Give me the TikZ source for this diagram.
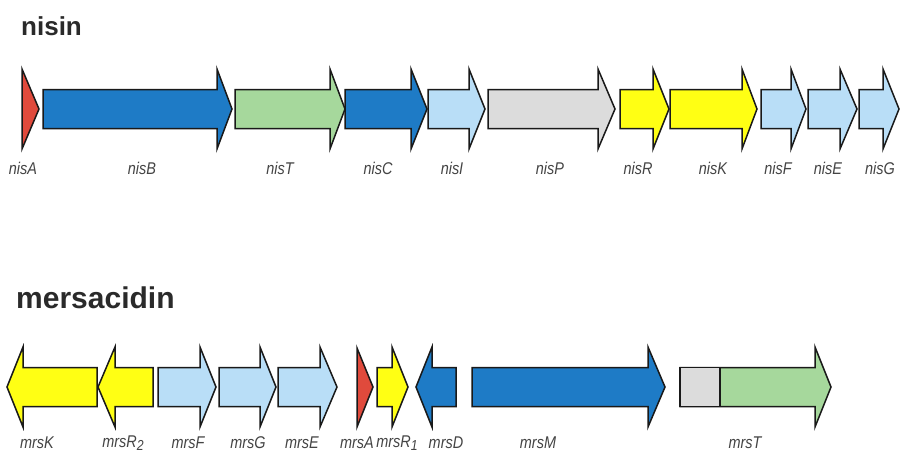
\documentclass[tikz,border=0pt]{standalone}
\usepackage{fontspec}
\setmainfont{Liberation Sans}
\newfontfamily\labfont[FakeStretch=0.85]{Liberation Sans}
\definecolor{gred}{HTML}{E04A3C}
\definecolor{gblue}{HTML}{1E7BC6}
\definecolor{ggreen}{HTML}{A6D89C}
\definecolor{glblue}{HTML}{B9DEF7}
\definecolor{ggray}{HTML}{DCDCDC}
\definecolor{gyellow}{HTML}{FFFF14}
\definecolor{labgray}{HTML}{444444}
\definecolor{titlegray}{HTML}{2A2A2A}
\tikzset{
  gene/.style={draw=black!90, line width=1.5pt, line join=miter},
  genelab/.style={font=\labfont\itshape\fontsize{17}{18}\selectfont, text=labgray, inner sep=0pt, anchor=center},
  title/.style={font=\bfseries, text=titlegray, inner sep=0pt, anchor=base west}
}
% right-pointing gene: start, head base, tip, centre y, colour
\newcommand\rgene[5]{\draw[gene, fill=#5] (#1,#4-19.5) -- (#2,#4-19.5) -- (#2,#4-40) -- (#3,#4) -- (#2,#4+40) -- (#2,#4+19.5) -- (#1,#4+19.5) -- cycle;}
% left-pointing gene: tip, head base, end, centre y, colour
\newcommand\lgene[5]{\draw[gene, fill=#5] (#3,#4-19.5) -- (#2,#4-19.5) -- (#2,#4-40) -- (#1,#4) -- (#2,#4+40) -- (#2,#4+19.5) -- (#3,#4+19.5) -- cycle;}
\newcommand\sub[1]{\raisebox{-0.3ex}{\scalebox{0.85}{#1}}}
\begin{document}
\begin{tikzpicture}[x=1pt,y=-1pt]
\useasboundingbox (0,0) rectangle (900,455);
\fill[white] (0,0) rectangle (900,455);
% titles
\node[title, font=\bfseries\fontsize{26}{28}\selectfont] (tnisin) at (21,35) {nisin};
\node[title, font=\bfseries\fontsize{30}{32}\selectfont] (tmers) at (16,308) {mersacidin};
% row 1: nisin
\draw[gene, fill=gred] (22,69) -- (39,109) -- (22,149) -- cycle;
\rgene{43}{217}{232}{109}{gblue}
\rgene{235}{330}{345}{109}{ggreen}
\rgene{345}{411}{427}{109}{gblue}
\rgene{428}{469}{485}{109}{glblue}
\rgene{488}{598}{615}{109}{ggray}
\rgene{620}{653}{669}{109}{gyellow}
\rgene{670}{742}{757}{109}{gyellow}
\rgene{761}{791}{806}{109}{glblue}
\rgene{808}{840}{857}{109}{glblue}
\rgene{859}{883}{899}{109}{glblue}
\node[genelab] (lnisA) at (23,168) {nisA};
\node[genelab] (lnisB) at (142,168) {nisB};
\node[genelab] (lnisT) at (280,168) {nisT};
\node[genelab] (lnisC) at (378,168) {nisC};
\node[genelab] (lnisI) at (452,168) {nisI};
\node[genelab] (lnisP) at (550,168) {nisP};
\node[genelab] (lnisR) at (638,168) {nisR};
\node[genelab] (lnisK) at (713,168) {nisK};
\node[genelab] (lnisF) at (778,168) {nisF};
\node[genelab] (lnisE) at (828,168) {nisE};
\node[genelab] (lnisG) at (880,168) {nisG};
% row 2: mersacidin
\lgene{7}{23}{97}{387}{gyellow}
\lgene{98}{115}{153}{387}{gyellow}
\rgene{158}{200}{216}{387}{glblue}
\rgene{219}{260}{276}{387}{glblue}
\rgene{278}{320}{337}{387}{glblue}
\draw[gene, fill=gred] (357,348) -- (373,387) -- (357,427) -- cycle;
\rgene{377}{392}{408}{387}{gyellow}
\lgene{416}{432}{456}{387}{gblue}
\rgene{472}{648}{665}{387}{gblue}
\rgene{680}{815}{831}{387}{ggreen}
\draw[gene, fill=ggray] (680,367.5) rectangle (720,406.5);
\node[genelab] (lmrsK) at (37,443) {mrsK};
\node[genelab] (lmrsRb) at (123,443) {mrsR\sub{2}};
\node[genelab] (lmrsF) at (188,443) {mrsF};
\node[genelab] (lmrsG) at (248,443) {mrsG};
\node[genelab] (lmrsE) at (302,443) {mrsE};
\node[genelab] (lmrsA) at (357,443) {mrsA};
\node[genelab] (lmrsRa) at (397,443) {mrsR\sub{1}};
\node[genelab] (lmrsD) at (446,443) {mrsD};
\node[genelab] (lmrsM) at (538,443) {mrsM};
\node[genelab] (lmrsT) at (745,443) {mrsT};
\end{tikzpicture}
\end{document}
